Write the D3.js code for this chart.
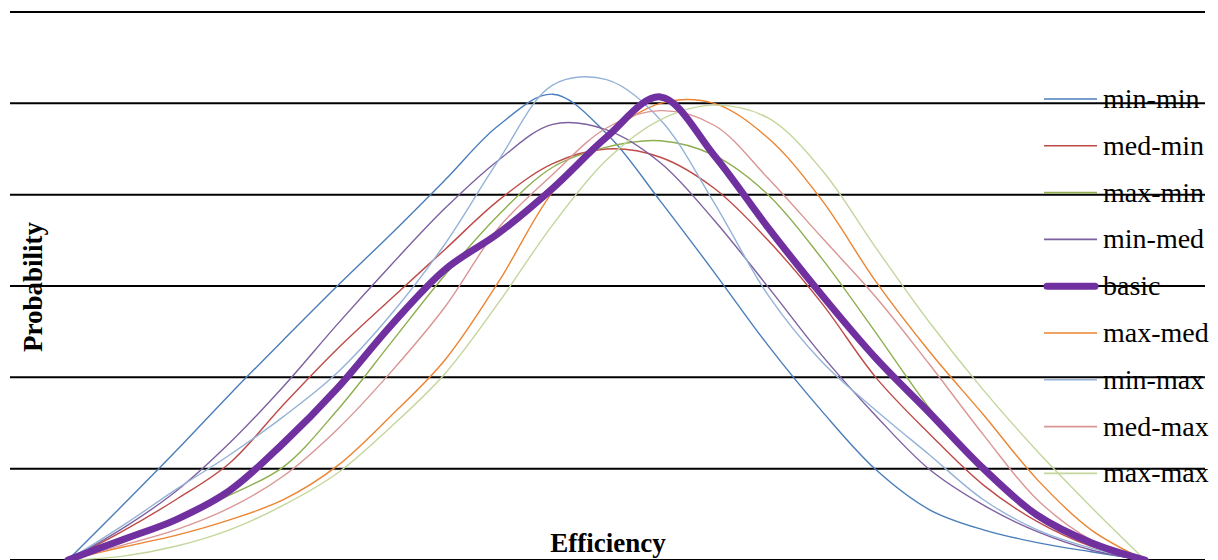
<!DOCTYPE html>
<html>
<head>
<meta charset="utf-8">
<script src="https://cdn.jsdelivr.net/npm/d3@7"></script>
<style>
html,body{margin:0;padding:0;background:#fff;}
svg{display:block;}
</style>
</head>
<body>
<svg id="chart" width="1218" height="560"></svg>
<script>
// Efficiency categories (x)
const categories = [0, 0.05, 0.1, 0.15, 0.2, 0.25, 0.3, 0.35, 0.4, 0.45, 0.5, 0.55, 0.6, 0.65, 0.7, 0.75, 0.8, 0.85, 0.9, 0.95, 1];
// Gridline tick values (probability)
const gridTicks = [0, 1, 2, 3, 4, 5, 6];
const seriesNames = ["min-min","med-min","max-min","min-med","basic","max-med","min-max","med-max","max-max"];

const minMin = [0,0.59,1.19,1.81,2.41,3.0,3.57,4.16,4.76,5.10,4.67,3.93,3.15,2.35,1.63,0.99,0.55,0.33,0.19,0.09,0];
const medMin = [0,0.31,0.66,1.06,1.70,2.31,2.86,3.40,3.94,4.34,4.50,4.41,4.07,3.50,2.81,2.00,1.38,0.82,0.42,0.15,0];
const maxMin = [0,0.22,0.44,0.71,1.02,1.64,2.38,3.12,3.78,4.30,4.52,4.59,4.43,4.00,3.30,2.49,1.66,0.97,0.49,0.19,0];
const minMed = [0,0.34,0.75,1.28,1.90,2.58,3.23,3.85,4.38,4.77,4.71,4.35,3.72,2.99,2.24,1.58,0.99,0.60,0.31,0.11,0];
const basic  = [0,0.22,0.44,0.76,1.28,1.88,2.57,3.18,3.58,4.07,4.63,5.07,4.43,3.64,2.90,2.21,1.61,1.00,0.49,0.19,0];
const maxMed = [0,0.14,0.27,0.44,0.66,1.03,1.58,2.19,3.05,4.03,4.65,5.00,5.00,4.62,3.94,3.05,2.28,1.59,0.88,0.33,0];
const minMax = [0,0.37,0.77,1.15,1.57,2.05,2.69,3.46,4.38,5.20,5.26,4.82,3.91,2.90,2.17,1.64,1.15,0.66,0.33,0.13,0];
const medMax = [0,0.16,0.33,0.57,0.92,1.43,2.06,2.77,3.64,4.22,4.73,4.92,4.76,4.18,3.53,2.88,2.14,1.37,0.66,0.22,0];
const maxMax = [0,0.04,0.15,0.33,0.60,0.95,1.46,2.04,2.82,3.67,4.38,4.82,4.98,4.84,4.27,3.42,2.60,1.86,1.19,0.58,0];

const seriesValues = [minMin, medMin, maxMin, minMed, basic, maxMed, minMax, medMax, maxMax];
const seriesColors = ["#4A7EBB","#BE4B48","#8EAE4F","#7D60A0","#7030A0","#EC8431","#95B3D7","#D99694","#C3D69B"];

const svg = d3.select("#chart");
const x = d3.scaleLinear().domain([d3.min(categories), d3.max(categories)]).range([68, 1145]);
const y = d3.scaleLinear().domain([0, 6]).range([560, 12]);

// gridlines
svg.append("g").selectAll("line").data(gridTicks).join("line")
  .attr("x1", 10).attr("x2", 1205)
  .attr("y1", d => y(d)).attr("y2", d => y(d))
  .attr("stroke", "#000").attr("stroke-width", 2);

const line = d3.line()
  .x((d, i) => x(categories[i]))
  .y(d => y(d))
  .curve(d3.curveCatmullRom.alpha(0.5));

const order = [0,1,2,3,5,6,7,8,4];
const g = svg.append("g");
order.forEach(k => {
  g.append("path")
    .datum(seriesValues[k])
    .attr("d", line)
    .attr("fill", "none")
    .attr("stroke", seriesColors[k])
    .attr("stroke-width", k === 4 ? 7 : 1.4)
    .attr("stroke-linecap", "round")
    .attr("stroke-linejoin", "round");
});

// legend
const leg = svg.append("g");
seriesNames.forEach((name, k) => {
  const cy = 99 + k * 46.8;
  leg.append("line")
    .attr("x1", k === 4 ? 1047 : 1044).attr("x2", k === 4 ? 1095 : 1097)
    .attr("y1", cy).attr("y2", cy)
    .attr("stroke", seriesColors[k])
    .attr("stroke-width", k === 4 ? 7 : 1.6)
    .attr("stroke-linecap", k === 4 ? "round" : "butt");
  leg.append("text")
    .attr("x", 1103).attr("y", cy + 9)
    .attr("font-family", "Liberation Serif, serif")
    .attr("font-size", 28)
    .attr("fill", "#000")
    .text(name);
});

// axis titles
svg.append("text")
  .attr("x", 608).attr("y", 552)
  .attr("text-anchor", "middle")
  .attr("font-family", "Liberation Serif, serif")
  .attr("font-weight", "bold")
  .attr("font-size", 27)
  .text("Efficiency");

svg.append("text")
  .attr("transform", "translate(42,287) rotate(-90)")
  .attr("text-anchor", "middle")
  .attr("font-family", "Liberation Serif, serif")
  .attr("font-weight", "bold")
  .attr("font-size", 27)
  .text("Probability");
</script>
</body>
</html>
